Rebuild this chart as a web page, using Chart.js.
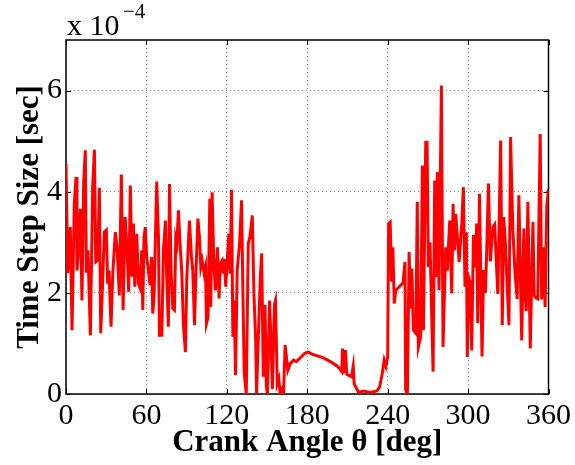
<!DOCTYPE html>
<html>
<head>
<meta charset="utf-8">
<script src="https://cdn.jsdelivr.net/npm/chart.js@4.4.1/dist/chart.umd.min.js"></script>
<style>
  html, body { margin: 0; padding: 0; background: #fff; }
  #wrap { width: 575px; height: 465px; }
</style>
</head>
<body>
<div id="wrap"><canvas id="stepChart" width="575" height="465"></canvas></div>
<script>
// crank angle [deg] and time step size [x 1e-4 sec]
const angleDeg = [
  0, 1.3, 3.2, 4.5, 6.2, 7.5, 8.2, 9.5, 10.7, 11.9, 13.2, 14.4, 15.2, 16.4, 18.2, 19.9,
  21.2, 22.2, 23.6, 24.9, 25.9, 27.4, 28.6, 30.1, 31.1, 32.1, 33.6, 34.9, 36.8, 38.1, 39.8,
  41.3, 42.6, 44.1, 45.6, 46.8, 48.0, 49.3, 50.3, 51.3, 52.8, 54.0, 55.3, 56.5, 57.3, 58.2,
  59.2, 60.2, 61.5, 62.7, 63.9, 64.7, 65.7, 67.0, 67.7, 69.0, 69.7, 71.5, 72.7, 74.2, 75.2,
  76.4, 77.2, 78.4, 79.7, 80.9, 81.9, 82.7, 83.9, 85.1, 86.4, 87.6, 89.1, 90.1, 91.4, 92.1,
  93.6, 94.6, 95.9, 97.1, 98.4, 99.6, 100.6, 101.6, 103.1, 104.1, 104.8, 106.0, 107.3, 108.0,
  109.0, 110.3, 111.5, 113.0, 114.2, 115.2, 116.5, 117.5, 118.2, 119.2, 120.5, 121.5, 122.5,
  123.5, 124.5, 125.5, 126.5, 127.7, 129.5, 131.0, 132.2, 133.0, 134.5, 136.0, 137.2, 139.0,
  140.2, 141.5, 142.2, 143.5, 145.0, 146.0, 147.2, 148.5, 149.5, 150.3, 151.9, 153.1, 154.0,
  154.8, 155.6, 156.3, 157.6, 158.8, 159.8, 161.3, 162.3, 163.5, 165.5, 167.3, 169.8, 171.8,
  174.2, 178, 180.5, 184.2, 191.7, 197.9, 202.9, 205.8, 206.3, 207.0, 208.5, 209.5, 213.0,
  214.3, 215.0, 218.3, 222, 227, 232, 234, 236, 237.4, 238.7, 240, 240.7, 241.9, 242.9,
  243.9, 244.9, 246.1, 251.5, 252.9, 253.4, 254.7, 256.0, 257.0, 258.0, 259.2, 261.0, 262.1,
  262.9, 264.6, 265.9, 266.7, 268.4, 269.4, 270.4, 271.6, 272.9, 273.9, 275.1, 275.8, 277.1,
  278.3, 280.1, 281.3, 283.3, 284.5, 286.3, 287.8, 288.8, 289.8, 290.8, 293.3, 295.3, 296.5,
  297.7, 298.7, 299.4, 300.7, 301.9, 302.7, 304.0, 305.4, 306.4, 307.2, 308.5, 309.4, 310.4,
  311.6, 312.9, 313.9, 315.2, 316.6, 318.5, 319.8, 322.2, 324.3, 325.5, 326.6, 328.0, 329.1,
  330.5, 331.7, 333.4, 335.0, 336.6, 337.9, 340.0, 341.6, 342.7, 343.4, 344.6, 346.4, 348.4,
  349.3, 350.5, 352.0, 353.8, 354.9, 356.0, 357.5, 358.7, 360
];
const stepSize = [
  4.55, 2.39, 3.3, 1.26, 3.77, 4.29, 2.44, 2.9, 3.66, 1.85, 4.2, 4.82, 2.4, 2.84, 1.16, 4.09,
  4.83, 2.61, 2.64, 4.08, 1.2, 2.25, 3.2, 3.24, 2.18, 2.44, 1.33, 2.38, 3.2, 2.9, 1.95,
  4.34, 1.66, 3.5, 2.84, 2.02, 4.12, 2.32, 3.37, 2.12, 3.17, 2.18, 2.09, 2.84, 1.66, 3.1,
  3.3, 2.71, 2.44, 2.15, 2.71, 1.59, 1.92, 3.43, 4.2, 3.1, 1.16, 1.16, 2.84, 3.43, 2.25,
  1.33, 4.15, 2.44, 1.69, 1.66, 3.07, 2.97, 3.63, 2.97, 2.41, 1.36, 0.83, 2.25, 3.04, 3.43,
  2.71, 2.44, 1.36, 2.51, 3.47, 3.1, 2.51, 2.64, 2.38, 2.51, 1.39, 1.52, 3.86, 1.72,
  3.99, 2.58, 2.05, 2.9, 1.89, 2.58, 2.64, 2.38, 2.67, 2.12, 2.71, 3.17, 2.38,
  4.04, 1.13, 1.85, 0.37, 2.44, 2.97, 3.83, 1.66, 0.41, 0, 2.97, 3.1, 3.53,
  1.99, 1.07, 0, 1.13, 2.32, 2.78, 0.34, 1.76, 0.14, 0, 1.85, 0.86, 0.1,
  1.07, 1.78, 1.85, 0.2, 0.3, 0, 0.1, 0, 0.97, 0.47, 0.6, 0.67, 0.64,
  0.7, 0.8, 0.83, 0.78, 0.72, 0.63, 0.54, 0.44, 0.9, 0.41, 0.87, 0.39, 0.34,
  0.55, 0.2, 0.03, 0.06, 0.03, 0.06, 0.14, 0.41, 0.67, 0.55, 0.73, 3.37, 3.4, 2.22,
  2.9, 1.79, 2.05, 2.2, 2.61, 0.08, 0, 2.81, 1.69, 2.48, 1.26, 1.2, 3.8,
  0.93, 1.13, 4.52, 1.26, 4.98, 4.98, 2.51, 3.0, 1.52, 0.44, 4.22, 2.31, 4.39,
  2.05, 6.1, 0.93, 2.9, 2.44, 3.43, 1.99, 3.76, 2.84, 3.56, 2.61, 3.37, 4.09,
  2.12, 3.2, 0.73, 2.28, 2.18, 0.86, 3.15, 2.5, 3.37, 1.4, 3.96, 2.45, 0.74,
  2.45, 2.0, 2.82, 4.16, 2.62, 3.3, 3.35, 1.98, 5.01, 1.36, 3.5, 2.9, 2.18,
  1.36, 5.08, 3.24, 2.41, 1.88, 3.93, 1.06, 3.27, 1.9, 1.64, 3.8, 0.9, 3.4,
  1.95, 1.9, 1.88, 5.14, 1.87, 2.9, 1.72, 3.7, 4.05
];
const xTicks = [0, 60, 120, 180, 240, 300, 360];
const yTicks = [0, 2, 4, 6];

const points = angleDeg.map((a, i) => ({ x: a, y: stepSize[i] }));

// matlab style box, inward ticks and the "x 10^-4" multiplier
const matlabAxes = {
  id: 'matlabAxes',
  beforeDatasetsDraw(chart) {
    const { ctx, chartArea: a, scales } = chart;
    ctx.save();
    ctx.strokeStyle = '#000';
    ctx.lineWidth = 1;
    const len = 5;
    ctx.beginPath();
    xTicks.forEach(v => {
      const px = Math.round(scales.x.getPixelForValue(v)) + 0.5;
      ctx.moveTo(px, a.bottom); ctx.lineTo(px, a.bottom - len);
      ctx.moveTo(px, a.top); ctx.lineTo(px, a.top + len);
    });
    yTicks.forEach(v => {
      const py = Math.round(scales.y.getPixelForValue(v)) + 0.5;
      ctx.moveTo(a.left, py); ctx.lineTo(a.left + len, py);
      ctx.moveTo(a.right, py); ctx.lineTo(a.right - len, py);
    });
    ctx.stroke();
    ctx.lineWidth = 1.5;
    ctx.strokeRect(a.left, a.top, a.right - a.left, a.bottom - a.top);
    ctx.restore();
  },
  afterDraw(chart) {
    const { ctx, chartArea: a } = chart;
    ctx.save();
    ctx.fillStyle = '#000';
    ctx.textBaseline = 'alphabetic';
    ctx.font = '30px "Liberation Serif"';
    ctx.fillText('x 10', a.left + 1, 35);
    ctx.font = '21px "Liberation Serif"';
    ctx.fillText('\u22124', a.left + 57, 18);
    ctx.restore();
  }
};

const ctx = document.getElementById('stepChart').getContext('2d');
new Chart(ctx, {
  type: 'line',
  data: {
    datasets: [{
      data: points,
      borderColor: '#ff0000',
      borderWidth: 3,
      pointRadius: 0,
      tension: 0,
      fill: false
    }]
  },
  options: {
    responsive: false,
    animation: false,
    layout: { padding: { top: 40, right: 26, left: 0, bottom: 0 } },
    plugins: {
      legend: { display: false },
      tooltip: { enabled: false }
    },
    scales: {
      x: {
        type: 'linear',
        min: 0,
        max: 360,
        afterBuildTicks: s => { s.ticks = xTicks.map(v => ({ value: v })); },
        afterFit: s => { s.height = 71; },
        grid: { color: '#888', lineWidth: 1, drawTicks: false },
        border: { display: false, dash: [1, 3] },
        ticks: {
          padding: 4,
          maxRotation: 0,
          color: '#000',
          font: { family: 'Liberation Serif', size: 30 }
        },
        title: {
          display: true,
          text: 'Crank Angle \u03b8 [deg]',
          color: '#000',
          padding: { top: 0, bottom: 3 },
          font: { family: 'Liberation Serif', size: 31, weight: 'bold' }
        }
      },
      y: {
        min: 0,
        max: 7,
        afterBuildTicks: s => { s.ticks = yTicks.map(v => ({ value: v })); },
        afterFit: s => { s.width = 66; },
        grid: { color: '#888', lineWidth: 1, drawTicks: false },
        border: { display: false, dash: [1, 3] },
        ticks: {
          padding: 4,
          color: '#000',
          font: { family: 'Liberation Serif', size: 30 }
        },
        title: {
          display: true,
          text: 'Time Step Size [sec]',
          color: '#000',
          padding: { top: 11, bottom: 0 },
          font: { family: 'Liberation Serif', size: 31, weight: 'bold' }
        }
      }
    }
  },
  plugins: [matlabAxes]
});
</script>
</body>
</html>
